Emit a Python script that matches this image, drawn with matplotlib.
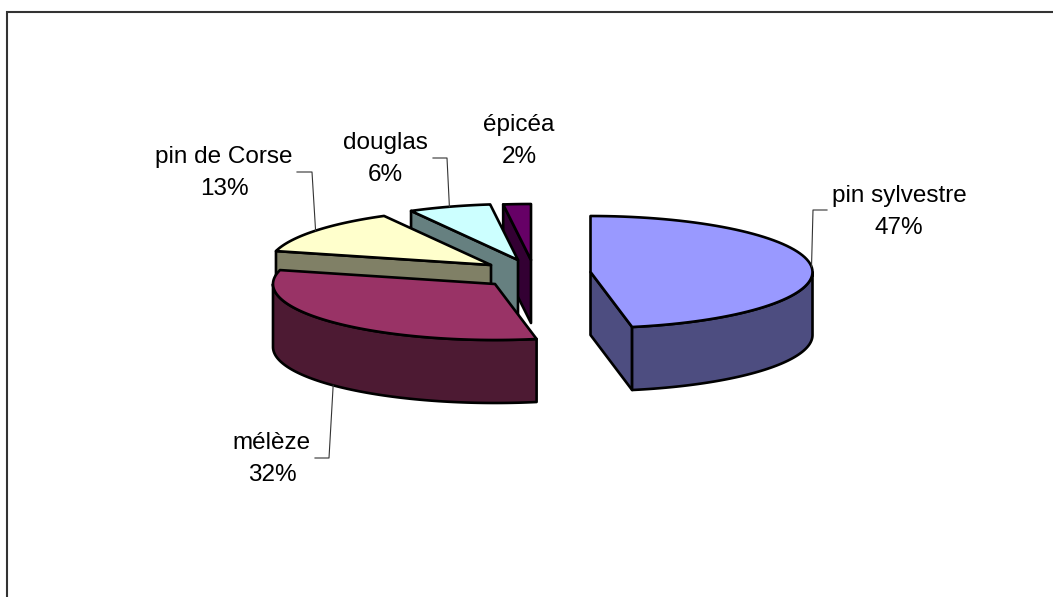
import numpy as np
import matplotlib
matplotlib.use('Agg')
import matplotlib.pyplot as plt
from matplotlib.patches import Polygon

### Data
essences = ['pin sylvestre', 'mélèze', 'pin de Corse', 'douglas', 'épicéa']
parts = [47, 32, 13, 6, 2]

### Style / layout
top_colors = ['#9999FF', '#993366', '#FFFFCC', '#CCFFFF', '#660066']
side_colors = ['#4D4D80', '#4D1A33', '#808066', '#668080', '#330033']

# pie centre, ellipse radii and thickness, in pixels
cx, cy = 510, 270
rx, ry = 222, 56
depth = 63
# how far each slice is pulled out of the pie
explode = [(80.5, 2), (-15, 14), (-19, -5), (8, -10), (21, -10)]

# label centre, leader elbow and leader end (None = no leader)
label_pos = [(899, 212), (272, 459), (224, 173), (385, 159), (519, 141)]
leader_elbow = [(813, 210), (329, 458), (312, 172), (447, 158), None]
leader_end = [(827, 210), (315, 458), (297, 172), (433, 158), None]

LW = 1.9

plt.rcParams['font.family'] = ['Liberation Sans', 'DejaVu Sans']

fig = plt.figure(figsize=(10.53, 5.97), dpi=100)
ax = fig.add_axes([0, 0, 1, 1])
ax.set_xlim(0, 1053)
ax.set_ylim(597, 0)
ax.axis('off')

# chart frame, only left and top edges are inside the picture
ax.plot([7, 7, 1053], [597, 12, 12], color='#333333', lw=1.5, solid_joinstyle='miter')


def point(x0, y0, deg):
    # angle is clockwise from 12 o'clock
    t = np.radians(deg)
    return x0 + rx * np.sin(t), y0 - ry * np.cos(t)


def arc(x0, y0, a, b):
    t = np.linspace(a, b, 80)
    xs, ys = point(x0, y0, t)
    return list(zip(xs, ys))


def wall(x0, y0, deg, color):
    px, py = point(x0, y0, deg)
    ax.add_patch(Polygon([(x0, y0), (px, py), (px, py + depth), (x0, y0 + depth)],
                         closed=True, fc=color, ec='black', lw=LW, joinstyle='round'))


edges = np.concatenate([[0], np.cumsum(parts)]) * 360 / sum(parts)

# back slices first, pin sylvestre and mélèze end up on top
for i in range(len(parts) - 1, -1, -1):
    a, b = edges[i], edges[i + 1]
    x0, y0 = cx + explode[i][0], cy + explode[i][1]

    # cut faces turned towards the viewer
    if np.sin(np.radians(a)) < 0:
        wall(x0, y0, a, side_colors[i])
    if np.sin(np.radians(b)) > 0:
        wall(x0, y0, b, side_colors[i])

    # outer face, front half of the ellipse only
    lo, hi = max(a, 90), min(b, 270)
    if hi > lo:
        front = arc(x0, y0, lo, hi)
        back = [(x, y + depth) for x, y in front[::-1]]
        ax.add_patch(Polygon(front + back, closed=True, fc=side_colors[i], ec='black',
                             lw=LW, joinstyle='round'))

    # top face
    ax.add_patch(Polygon([(x0, y0)] + arc(x0, y0, a, b), closed=True, fc=top_colors[i],
                         ec='black', lw=LW, joinstyle='round'))

    # leader line from the middle of the slice
    if leader_elbow[i] is not None:
        mid = (a + b) / 2
        sx, sy = point(x0, y0, mid)
        if 90 < mid < 270:
            sy += depth
        ax.plot([sx, leader_elbow[i][0], leader_end[i][0]],
                [sy, leader_elbow[i][1], leader_end[i][1]], color='#333333', lw=0.8)

    ax.text(label_pos[i][0], label_pos[i][1], f'{essences[i]}\n{parts[i]}%', fontsize=17.5,
            ha='center', va='center', linespacing=1.55, color='black')

fig.savefig('out.png', dpi=100)
